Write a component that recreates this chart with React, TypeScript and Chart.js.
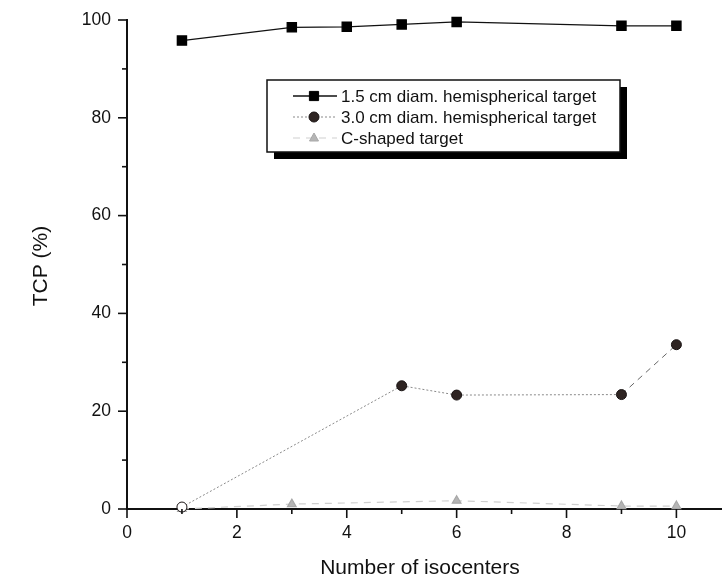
import React, { useEffect, useRef } from 'react';
import { Chart, registerables } from 'chart.js';

Chart.register(...registerables);

const seriesLabels = [
  '1.5 cm diam. hemispherical target',
  '3.0 cm diam. hemispherical target',
  'C-shaped target',
];
const xSmall = [1, 3, 4, 5, 6, 9, 10];
const tcpSmall = [95.8, 98.5, 98.6, 99.1, 99.6, 98.8, 98.8];
const xLarge = [1, 5, 6, 9, 10];
const tcpLarge = [0.4, 25.2, 23.3, 23.4, 33.6];
const xCShape = [1, 3, 6, 9, 10];
const tcpCShape = [0, 1.0, 1.7, 0.6, 0.6];

const xTickValues = [0, 2, 4, 6, 8, 10];
const yTickValues = [0, 20, 40, 60, 80, 100];
const xMinorStep = 1;
const yMinorStep = 10;
const xAxisMin = 0;
const xAxisMax = 10.83;
const yAxisMin = 0;
const yAxisMax = 100;
const xTitle = 'Number of isocenters';
const yTitle = 'TCP (%)';

const FONT = '"Liberation Sans", Arial, Helvetica, sans-serif';

const toPoints = (xs: number[], ys: number[]) => xs.map((x, i) => ({ x, y: ys[i] }));

function drawMarker(ctx: CanvasRenderingContext2D, style: string, x: number, y: number, r: number, fill: string, stroke: string) {
  ctx.save();
  ctx.fillStyle = fill;
  ctx.strokeStyle = stroke;
  ctx.lineWidth = 1;
  ctx.setLineDash([]);
  ctx.beginPath();
  if (style === 'rect') {
    const s = Math.SQRT1_2 * r;
    ctx.rect(x - s, y - s, 2 * s, 2 * s);
  } else if (style === 'circle') {
    ctx.arc(x, y, r, 0, Math.PI * 2);
  } else {
    ctx.moveTo(x, y - r);
    ctx.lineTo(x + r * 0.9, y + r * 0.6);
    ctx.lineTo(x - r * 0.9, y + r * 0.6);
    ctx.closePath();
  }
  ctx.fill();
  ctx.stroke();
  ctx.restore();
}

const decorPlugin = {
  id: 'decor',
  afterDraw(chart: any) {
    const ctx: CanvasRenderingContext2D = chart.ctx;
    const xs = chart.scales.x;
    const ys = chart.scales.y;
    const area = chart.chartArea;
    ctx.save();
    ctx.strokeStyle = '#111';
    ctx.lineWidth = 1.6;
    ctx.setLineDash([]);
    for (let v = xAxisMin; v <= xAxisMax + 1e-9; v += xMinorStep) {
      const px = xs.getPixelForValue(v);
      const major = xTickValues.includes(v);
      ctx.beginPath();
      ctx.moveTo(px, area.bottom);
      ctx.lineTo(px, area.bottom + (major ? 9 : 5));
      ctx.stroke();
    }
    for (let v = yAxisMin; v <= yAxisMax + 1e-9; v += yMinorStep) {
      const py = ys.getPixelForValue(v);
      const major = yTickValues.includes(v);
      ctx.beginPath();
      ctx.moveTo(area.left, py);
      ctx.lineTo(area.left - (major ? 9 : 5), py);
      ctx.stroke();
    }
    ctx.fillStyle = '#111';
    ctx.font = `17.5px ${FONT}`;
    ctx.textAlign = 'center';
    ctx.textBaseline = 'middle';
    xTickValues.forEach((v) => {
      ctx.fillText(String(v), xs.getPixelForValue(v), area.bottom + 24);
    });
    ctx.textAlign = 'right';
    yTickValues.forEach((v) => {
      ctx.fillText(String(v), area.left - 16, ys.getPixelForValue(v));
    });
    ctx.font = `21px ${FONT}`;
    ctx.textAlign = 'center';
    ctx.fillText(xTitle, 420, 568);
    ctx.save();
    ctx.translate(41, 266);
    ctx.rotate(-Math.PI / 2);
    ctx.fillText(yTitle, 0, 0);
    ctx.restore();

    const bx = 267, by = 80, bw = 353, bh = 72, sh = 7;
    ctx.fillStyle = '#000';
    ctx.fillRect(bx + sh, by + sh, bw, bh);
    ctx.fillStyle = '#fff';
    ctx.fillRect(bx, by, bw, bh);
    ctx.strokeStyle = '#111';
    ctx.lineWidth = 1.5;
    ctx.strokeRect(bx, by, bw, bh);
    const rowY = [96, 117, 138];
    chart.data.datasets.forEach((ds: any, i: number) => {
      const y = rowY[i];
      ctx.save();
      ctx.strokeStyle = ds.borderColor;
      ctx.lineWidth = ds.borderWidth;
      ctx.setLineDash(ds.borderDash || []);
      ctx.beginPath();
      ctx.moveTo(293, y);
      ctx.lineTo(337, y);
      ctx.stroke();
      ctx.restore();
      const fill = Array.isArray(ds.pointBackgroundColor) ? ds.pointBackgroundColor[ds.pointBackgroundColor.length - 1] : ds.pointBackgroundColor;
      drawMarker(ctx, ds.pointStyle, 314, y, ds.pointRadius, fill, ds.pointBorderColor);
      ctx.fillStyle = '#111';
      ctx.font = `17px ${FONT}`;
      ctx.textAlign = 'left';
      ctx.textBaseline = 'middle';
      ctx.fillText(seriesLabels[i], 341, y + 1);
    });
    ctx.restore();
  },
};

export default function App() {
  const ref = useRef<HTMLCanvasElement | null>(null);
  useEffect(() => {
    if (!ref.current) return;
    const chart = new Chart(ref.current, {
      type: 'line',
      data: {
        datasets: [
          {
            label: seriesLabels[0],
            data: toPoints(xSmall, tcpSmall),
            borderColor: '#111',
            borderWidth: 1.3,
            pointStyle: 'rect',
            pointRadius: 6.5,
            pointBackgroundColor: '#000',
            pointBorderColor: '#000',
            borderDash: [],
          },
          {
            label: seriesLabels[1],
            data: toPoints(xLarge, tcpLarge),
            borderColor: '#8a8a8a',
            borderWidth: 1,
            borderDash: [2, 2],
            segment: {
              borderDash: (c: any) => (c.p1DataIndex === xLarge.length - 1 ? [6, 5] : [2, 2]),
              borderColor: (c: any) => (c.p1DataIndex === xLarge.length - 1 ? '#666' : '#8a8a8a'),
            },
            pointStyle: 'circle',
            pointRadius: 5,
            pointBackgroundColor: xLarge.map((_, i) => (i === 0 ? '#ffffff' : '#2e2422')),
            pointBorderColor: '#1a1414',
          },
          {
            label: seriesLabels[2],
            data: toPoints(xCShape, tcpCShape),
            borderColor: '#cfcfcf',
            borderWidth: 1.2,
            borderDash: [7, 6],
            pointStyle: 'triangle',
            pointRadius: 5,
            pointBackgroundColor: '#b5b5b5',
            pointBorderColor: '#a8a8a8',
          },
        ] as any,
      },
      options: {
        responsive: false,
        animation: false,
        events: [],
        layout: { padding: { left: 127, top: 20, right: 0, bottom: 75 }, autoPadding: false },
        plugins: { legend: { display: false }, tooltip: { enabled: false } },
        elements: { line: { tension: 0 } },
        datasets: { line: { clip: false as any } },
        scales: {
          x: {
            type: 'linear',
            min: xAxisMin,
            max: xAxisMax,
            grid: { display: false, drawTicks: false },
            ticks: { display: false },
            border: { display: true, color: '#111', width: 2 },
          },
          y: {
            type: 'linear',
            min: yAxisMin,
            max: yAxisMax,
            grid: { display: false, drawTicks: false },
            ticks: { display: false },
            border: { display: true, color: '#111', width: 2 },
          },
        },
      } as any,
      plugins: [decorPlugin],
    });
    return () => chart.destroy();
  }, []);
  return (
    <div style={{ position: 'fixed', left: 0, top: 0, width: 722, height: 584, background: '#fff' }}>
      <canvas ref={ref} width={722} height={584} style={{ display: 'block' }} />
    </div>
  );
}
